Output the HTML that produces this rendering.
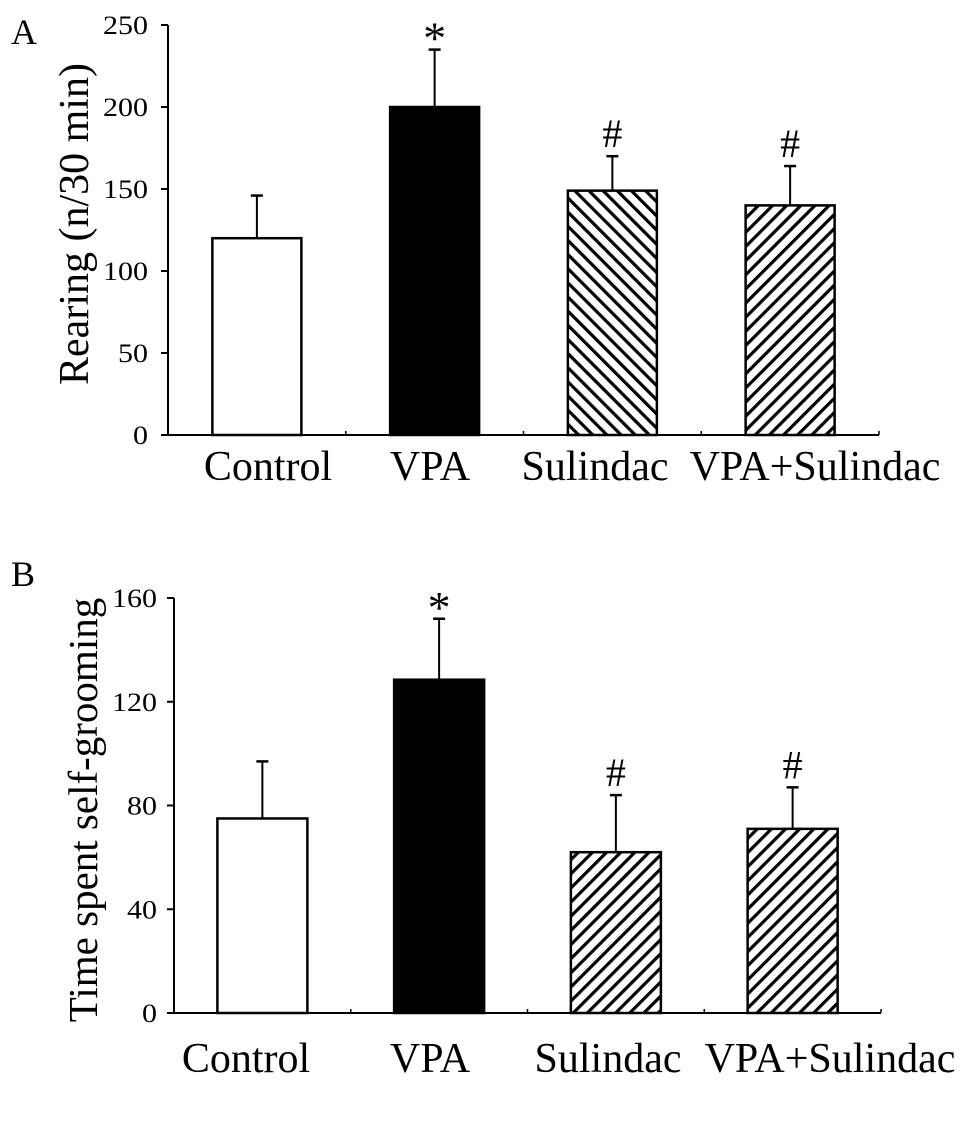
<!DOCTYPE html>
<html><head><meta charset="utf-8"><style>
html,body{margin:0;padding:0;background:#fff;}
svg{display:block;font-family:"Liberation Serif",serif;}
</style></head><body>
<svg id="fig" width="969" height="1131" viewBox="0 0 969 1131" xmlns="http://www.w3.org/2000/svg">
<defs>
<pattern id="hatchFwdSlash" patternUnits="userSpaceOnUse" width="10" height="10" patternTransform="rotate(45)">
<rect width="10" height="10" fill="#fff"/><rect x="0" y="0" width="3.2" height="10" fill="#000"/></pattern>
<pattern id="hatchBackSlash" patternUnits="userSpaceOnUse" width="10" height="10" patternTransform="rotate(-45)">
<rect width="10" height="10" fill="#fff"/><rect x="0" y="0" width="3.2" height="10" fill="#000"/></pattern>
</defs>
<g id="panelA"></g>
<g id="panelB"></g>
</svg>
<script>
const categories = ["Control","VPA","Sulindac","VPA+Sulindac"];
const rearingValues = [120,200,149,140];
const rearingErrors = [26,35,21,24];
const rearingMarks = ["","*","#","#"];
const rearingTicks = [0,50,100,150,200,250];
const groomingValues = [75,128.5,62,71];
const groomingErrors = [22,23.5,22,16];
const groomingMarks = ["","*","#","#"];
const groomingTicks = [0,40,80,120,160];

const NS="http://www.w3.org/2000/svg";
function mk(parent,tag,attrs,text){const e=document.createElementNS(NS,tag);for(const k in attrs)e.setAttribute(k,attrs[k]);if(text!==undefined)e.textContent=text;parent.appendChild(e);return e;}
const fills=["#fff","#000","url(#hatchBackSlash)","url(#hatchFwdSlash)"];
const fillsB=["#fff","#000","url(#hatchFwdSlash)","url(#hatchFwdSlash)"];

function drawPanel(g,cfg){
  const yS=v=>cfg.y0-(v-cfg.vmin)/(cfg.vmax-cfg.vmin)*(cfg.y0-cfg.yTop);
  const slot=(cfg.xEnd-cfg.x0)/cfg.cats.length;
  const xC=i=>cfg.x0+slot*(i+0.5);
  const L=mk(g,"text",{x:cfg.letterX,y:cfg.letterY,"font-size":36});L.textContent=cfg.letter;
  
  
  const t=mk(g,"text",{x:0,y:0,"font-size":cfg.titleSize,"text-anchor":"middle",transform:`translate(${cfg.titleX},${cfg.titleY}) rotate(-90)`});t.textContent=cfg.title;
  
  
  const ya=mk(g,"line",{x1:cfg.x0,y1:yS(cfg.vmax),x2:cfg.x0,y2:cfg.y0+1,stroke:"#000","stroke-width":2});
  
  
  const xa=mk(g,"line",{x1:cfg.x0-1,y1:cfg.y0,x2:cfg.xEnd,y2:cfg.y0,stroke:"#000","stroke-width":2});
  
  
  for(let i=1;i<=cfg.cats.length;i++){
    const tk=mk(g,"line",{x1:cfg.x0+slot*i,y1:cfg.y0,x2:cfg.x0+slot*i,y2:cfg.y0-4,stroke:"#000","stroke-width":1.5});
    
    
  }
  cfg.ticks.forEach(v=>{
    const y=yS(v);
    const tl=mk(g,"line",{x1:cfg.x0-7,y1:y,x2:cfg.x0,y2:y,stroke:"#000","stroke-width":2});
    
    
    const tx=mk(g,"text",{x:cfg.x0-cfg.tickGap,y:y+9,"font-size":26,"text-anchor":"end",textLength:String(v).length*15,lengthAdjust:"spacingAndGlyphs"});tx.textContent=v;
    
    
  });
  cfg.cats.forEach((c,i)=>{
    const cx=xC(i),w=cfg.barW,top=yS(cfg.vals[i]),et=yS(cfg.vals[i]+cfg.errs[i]);
    const el=mk(g,"line",{x1:cx,y1:top,x2:cx,y2:et,stroke:"#000","stroke-width":2});
    
    
    const ec=mk(g,"line",{x1:cx-6,y1:et,x2:cx+6,y2:et,stroke:"#000","stroke-width":2.5});
    
    
    const r=mk(g,"rect",{x:cx-w/2,y:top,width:w,height:cfg.y0-top,fill:cfg.fills[i],stroke:"#000","stroke-width":2.5});
    
    
    if(cfg.marks[i]){
      const star=cfg.marks[i]==="*";
      const m=mk(g,"text",{x:cx,y:et+(star?4:-9),"font-size":star?46:40,"text-anchor":"middle"});m.textContent=cfg.marks[i];
      
      
    }
    const lb=mk(g,"text",{x:cfg.labelX[i],y:cfg.labelY,"font-size":42,"text-anchor":"middle"});lb.textContent=c;
    
    
  });
}
drawPanel(document.getElementById("panelA"),{letter:"A",letterX:11,letterY:44,title:"Rearing (n/30 min)",titleSize:42,titleX:88,titleY:224,tickGap:20,
  x0:168,xEnd:879,y0:435,yTop:25,vmin:0,vmax:250,barW:89,cats:categories,vals:rearingValues,errs:rearingErrors,marks:rearingMarks,ticks:rearingTicks,fills:fills,
  labelX:[268,430,595,815],labelY:480});
drawPanel(document.getElementById("panelB"),{letter:"B",letterX:11,letterY:586,title:"Time spent self-grooming",titleSize:41,titleX:97,titleY:810,tickGap:17,
  x0:174,xEnd:881,y0:1013,yTop:598,vmin:0,vmax:160,barW:90,cats:categories,vals:groomingValues,errs:groomingErrors,marks:groomingMarks,ticks:groomingTicks,fills:fillsB,
  labelX:[246,430,608,830],labelY:1072});
</script>
</body></html>
